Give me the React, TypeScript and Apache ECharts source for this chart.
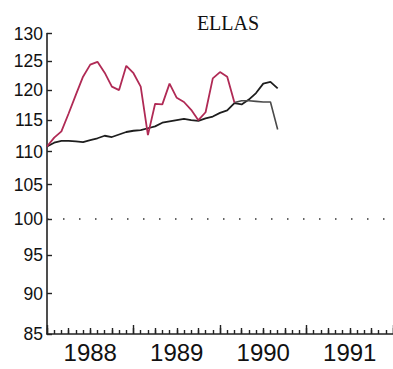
import React, { useEffect, useRef } from "react";
import * as echarts from "echarts";

const title = "ELLAS";
const startYear = 1988;
const endYear = 1992;
const yearLabels = [1988, 1989, 1990, 1991];
const yTicks = [85, 90, 95, 100, 105, 110, 115, 120, 125, 130];
const refLevel = 100;

// monthly values starting Jan 1988
const redValues = [
  110.8, 112.2, 113.2, 116.1, 119.2, 122.3, 124.4, 124.9, 123.0, 120.6, 120.0, 124.2,
  122.9, 120.6, 112.6, 117.7, 117.6, 121.1, 118.7, 118.0, 116.7, 115.0, 116.3, 122.0,
  123.1, 122.3, 117.9,
];
const greyStartIndex = 26;
const greyValues = [117.9, 118.2, 118.2, 118.1, 118.0, 118.0, 113.5];
const blackValues = [
  110.8, 111.4, 111.7, 111.7, 111.6, 111.5, 111.8, 112.1, 112.5, 112.3, 112.7, 113.1,
  113.3, 113.4, 113.7, 114.0, 114.6, 114.8, 115.0, 115.2, 115.0, 114.9, 115.3, 115.6,
  116.2, 116.6, 117.8, 117.6, 118.4, 119.5, 121.1, 121.4, 120.3,
];

const toPoints = (vals: number[], offset = 0) =>
  vals.map((v, i) => [startYear + (i + offset) / 12, v]);

export default function App() {
  const ref = useRef<HTMLDivElement>(null);
  useEffect(() => {
    if (!ref.current) return;
    const chart = echarts.init(ref.current, null, { renderer: "svg" });
    const axisColor = "#222";
    chart.setOption({
      animation: false,
      backgroundColor: "#fff",
      title: {
        text: title,
        left: 223,
        top: 8,
        textAlign: "center",
        textStyle: {
          fontFamily: "Liberation Serif",
          fontSize: 20,
          fontWeight: "normal",
          color: "#111",
        },
      },
      grid: { left: 47, right: -8, top: 33.5, bottom: 35, containLabel: false },
      xAxis: [
        {
          type: "value",
          min: startYear,
          max: endYear,
          interval: 1,
          axisLine: { show: true, lineStyle: { color: axisColor, width: 1.6 } },
          axisTick: { show: true, inside: true, length: 9, lineStyle: { color: axisColor, width: 1.4 } },
          minorTick: { show: true, splitNumber: 12, length: 4, lineStyle: { color: axisColor, width: 1.4 } },
          splitLine: { show: false },
          axisLabel: {
            customValues: yearLabels.map((y) => y + 0.5),
            formatter: (v: number) => String(Math.floor(v)),
            fontFamily: "Liberation Sans",
            fontSize: 24,
            color: "#111",
            margin: 6,
          },
        },
        {
          type: "value",
          min: startYear,
          max: endYear,
          interval: 0.25,
          position: "bottom",
          axisLine: { show: false },
          axisTick: { show: true, inside: true, length: 6, lineStyle: { color: axisColor, width: 1.4 } },
          axisLabel: { show: false },
          splitLine: { show: false },
        },
      ],
      yAxis: {
        type: "log",
        logBase: 10,
        min: yTicks[0],
        max: yTicks[yTicks.length - 1],
        axisLine: { show: true, lineStyle: { color: axisColor, width: 1.6 } },
        axisTick: { show: true, inside: true, length: 5, customValues: yTicks, lineStyle: { color: axisColor, width: 1.4 } },
        minorTick: { show: false },
        splitLine: { show: false },
        axisLabel: {
          customValues: yTicks,
          formatter: (v: number) => String(Math.round(v)),
          fontFamily: "Liberation Sans",
          fontSize: 17.5,
          color: "#111",
          margin: 4,
          padding: [6, 0, 0, 0],
        },
      },
      series: [
        {
          type: "line",
          data: toPoints(blackValues),
          showSymbol: false,
          lineStyle: { color: "#1e1e1e", width: 1.8 },
          markLine: {
            silent: true,
            symbol: "none",
            label: { show: false },
            lineStyle: { color: "#333", width: 1.5, type: [1.5, 14.5] },
            data: [{ yAxis: refLevel }],
          },
        },
        {
          type: "line",
          data: toPoints(greyValues, greyStartIndex),
          showSymbol: false,
          lineStyle: { color: "#4a4a4a", width: 1.6 },
        },
        {
          type: "line",
          data: toPoints(redValues),
          showSymbol: false,
          lineStyle: { color: "#b02a55", width: 1.8 },
        },
      ],
    });
    return () => chart.dispose();
  }, []);
  return (
    <div
      ref={ref}
      style={{ position: "fixed", left: 0, top: 0, width: 393, height: 369 }}
    />
  );
}
